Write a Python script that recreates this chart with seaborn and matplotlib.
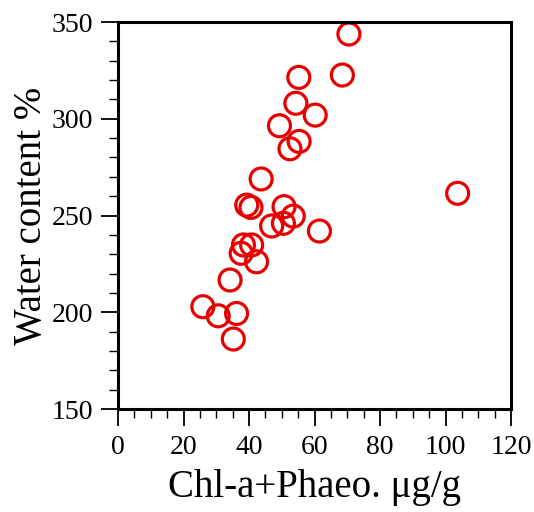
import matplotlib
matplotlib.use("Agg")
import matplotlib.pyplot as plt
import seaborn as sns
import pandas as pd
from matplotlib.ticker import MultipleLocator

chl = [70.5, 68.5, 55.2, 54.3, 60.2, 49.3, 55.3, 52.5, 43.7, 39.3, 40.6, 50.7,
       53.5, 50.5, 46.9, 61.5, 38.3, 40.8, 37.6, 42.3, 34.2, 25.9, 30.6, 36.2,
       35.2, 103.7]
water = [343.8, 322.6, 321.4, 308.0, 301.9, 296.4, 288.3, 284.5, 268.9, 255.4,
         254.2, 254.6, 249.7, 246.0, 244.6, 242.0, 234.8, 234.8, 230.5, 226.1,
         216.7, 202.9, 198.2, 199.4, 186.2, 261.5]

df = pd.DataFrame({"chl": chl, "water": water})

sns.set_theme(style="white")
plt.rcParams["font.family"] = ["Liberation Serif", "DejaVu Serif"]
plt.rcParams["text.color"] = "black"
plt.rcParams["axes.labelcolor"] = "black"

fig = plt.figure(figsize=(5.34, 5.12), dpi=100)
ax = fig.add_axes([0.221, 0.201, 0.736, 0.756])

sns.scatterplot(data=df, x="chl", y="water", ax=ax, s=250, marker="o",
                facecolor="none", edgecolor="#e80000", linewidth=2.3, legend=False)

ax.set_xlim(0, 120)
ax.set_ylim(150, 350)
ax.xaxis.set_major_locator(MultipleLocator(20))
ax.xaxis.set_minor_locator(MultipleLocator(5))
ax.yaxis.set_major_locator(MultipleLocator(50))
ax.yaxis.set_minor_locator(MultipleLocator(10))

for sp in ax.spines.values():
    sp.set_visible(True)
    sp.set_linewidth(2.2)
    sp.set_color("black")

ax.tick_params(which="major", direction="out", length=12, width=1.3,
               colors="black", labelcolor="black", labelsize=20, bottom=True, left=True)
ax.tick_params(which="minor", direction="out", length=6.5, width=1.0,
               colors="black", bottom=True, left=True)
ax.tick_params(axis="x", which="major", pad=7)
ax.tick_params(axis="y", which="major", pad=6)

ax.set_xlabel("Chl-a+Phaeo. μg/g", fontsize=28, labelpad=6, color="black")
ax.set_ylabel("Water content %", fontsize=28, labelpad=1, color="black")

fig.savefig("out.png", dpi=100)
